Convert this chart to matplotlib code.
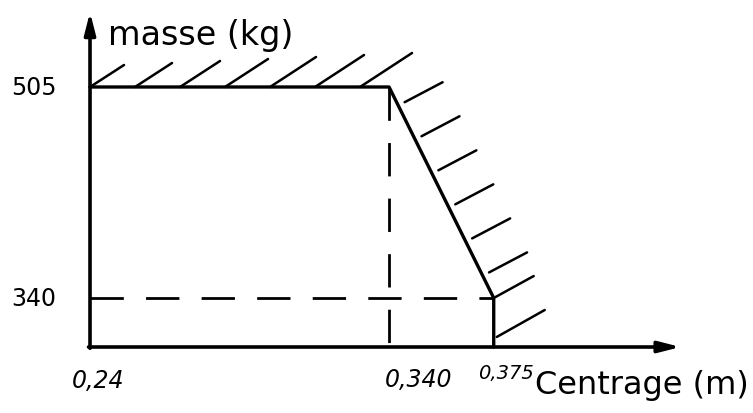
import numpy as np
import matplotlib
matplotlib.use('Agg')
import matplotlib.pyplot as plt

centrage = [0.24, 0.340, 0.375]      # m
masse = [505, 505, 340]              # kg
xtick_labels = ['0,24', '0,340', '0,375']
ytick_labels = ['505', '340']
ytick_vals = [505, 340]

# origine visuelle des axes (croquis non a l'echelle)
x0, y0 = 0.24, 301.7
x_end, y_end = 0.4375, 563.6

fig = plt.figure(figsize=(7.53, 4.14), dpi=100)
ax = fig.add_axes([0, 0, 1, 1])
ax.set_xlim(0.2099, 0.4617)
ax.set_ylim(250.1, 573.8)
ax.axis('off')

# axes avec fleches
arr = dict(arrowstyle='-|>,head_length=1.3,head_width=0.33', lw=2.6,
           color='black', shrinkA=0, shrinkB=0)
ax.annotate('', xy=(x_end, y0), xytext=(x0 - 0.0005, y0), arrowprops=arr)
ax.annotate('', xy=(x0, y_end), xytext=(x0, y0 - 1), arrowprops=arr)

# contour du domaine
bx = [centrage[0], centrage[1], centrage[2], centrage[2]]
by = [masse[0], masse[1], masse[2], y0]
ax.plot(bx, by, color='black', lw=2.4, solid_capstyle='round', solid_joinstyle='round')

# lignes de rappel en tirets
ax.plot([centrage[1], centrage[1]], [masse[1], y0], color='black', lw=2.0,
        dashes=(12, 8))
ax.plot([x0, centrage[2]], [masse[2], masse[2]], color='black', lw=2.0,
        dashes=(12, 8))

# hachures le long du contour (en pixels)
fig.canvas.draw()
tr = ax.transData
inv = tr.inverted()
pts = tr.transform(np.column_stack([bx, by]))


def stroke(start, vec):
    d = inv.transform([start, start + vec])
    ax.plot(d[:, 0], d[:, 1], color='black', lw=1.8, solid_capstyle='round')


# segment horizontal
top_len = pts[1][0] - pts[0][0]
for k, s in enumerate(np.arange(0, top_len, 45)):
    stroke(pts[0] + np.array([s, 0]), np.array([34 + 3 * k, 22 + 2 * k]))

# segment oblique
d_sl = pts[2] - pts[1]
sl_len = np.hypot(*d_sl)
for s in np.arange(17, sl_len - 20, 38):
    p = pts[1] + d_sl * s / sl_len
    stroke(p + np.array([8, 0]), np.array([38, 20]))

# coin et segment vertical
stroke(pts[2], np.array([40, 22]))
stroke(pts[3] + np.array([3, 10]), np.array([48, 27]))

for v, lab in zip(ytick_vals, ytick_labels):
    ax.annotate(lab, xy=(x0, v), xytext=(-24, 0), textcoords='offset points',
                ha='right', va='center', fontsize=17)

xoffs = [(-13, -24), (-3, -23), (-11, -18)]
xsizes = [17, 17, 14]
for v, lab, off, fsz in zip(centrage, xtick_labels, xoffs, xsizes):
    ax.annotate(lab, xy=(v, y0), xytext=off, textcoords='offset points',
                ha='left', va='center', fontsize=fsz, style='italic')

ax.annotate('masse (kg)', xy=(x0, y_end), xytext=(13, -16), textcoords='offset points',
            ha='left', va='center', fontsize=24)
ax.annotate('Centrage (m)', xy=(centrage[2], y0), xytext=(30, -27),
            textcoords='offset points', ha='left', va='center', fontsize=23)

fig.savefig('out.png', dpi=100)
